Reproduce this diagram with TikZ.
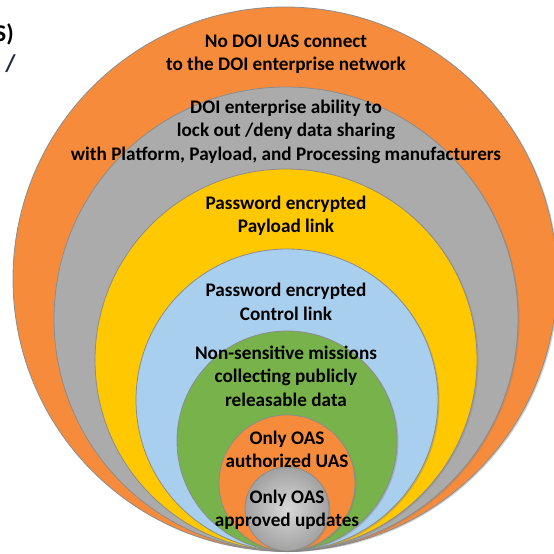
\documentclass[tikz,border=0pt]{standalone}
\usepackage{fontspec}
\setmainfont{Carlito}
\usetikzlibrary{shadows}
\definecolor{corange}{HTML}{F68B3C}
\definecolor{cgray}{HTML}{ABABAB}
\definecolor{cyellow}{HTML}{FFC800}
\definecolor{cblue}{HTML}{A9CFEF}
\definecolor{cgreen}{HTML}{77B24A}
\definecolor{cgrayin}{HTML}{BEBEBE}
\definecolor{cnavy}{HTML}{1F2A44}
\begin{document}
\begin{tikzpicture}[x=1pt,y=-1pt,
  ring/.style={circle,inner sep=0pt,draw=black!45,line width=0.8pt,
    drop shadow={shadow xshift=1.5pt,shadow yshift=-1pt,opacity=0.35}},
  lbl/.style={align=center,inner sep=0pt,font=\fontsize{19.2}{23.4}\selectfont\bfseries,text=black}]
\useasboundingbox (0,0) rectangle (554,554);
\fill[white] (0,0) rectangle (554,554);
\node[ring,fill=corange,minimum size=544pt] (c1) at (285,279) {};
\node[ring,fill=cgray,minimum size=464pt] (c2) at (286,319) {};
\node[ring,fill=cyellow,minimum size=382pt] (c3) at (286,360) {};
\node[ring,fill=cblue,minimum size=302pt] (c4) at (287,400) {};
\node[ring,fill=cgreen,minimum size=220pt] (c5) at (287,441) {};
\node[ring,fill=corange,minimum size=136pt] (c6) at (287,483) {};
\node[ring,inner color=cgrayin!60!white,outer color=cgrayin!85!black,minimum size=84pt] (c7) at (287,509) {};
\node[lbl] (t1) at (286,54.5) {No DOI UAS connect\\to the DOI enterprise network};
\node[lbl] (t2) at (286,131.5) {DOI enterprise ability to\\lock out /deny data sharing\\with Platform, Payload, and Processing manufacturers};
\node[lbl] (t3) at (286,215.5) {Password encrypted\\Payload link};
\node[lbl] (t4) at (286,302) {Password encrypted\\Control link};
\node[lbl] (t5) at (286,376) {Non-sensitive missions\\collecting publicly\\releasable data};
\node[lbl] (t6) at (287,449.5) {Only OAS\\authorized UAS};
\node[lbl] (t7) at (287,510) {Only OAS\\approved updates};
\node[anchor=east,inner sep=0pt,font=\fontsize{24}{28}\selectfont\bfseries,text=black] (s1) at (14,34) {S)};
\node[anchor=east,inner sep=0pt,font=\fontsize{24}{28}\selectfont\bfseries,text=cnavy] (s2) at (16,64) {e /};
\end{tikzpicture}
\end{document}
